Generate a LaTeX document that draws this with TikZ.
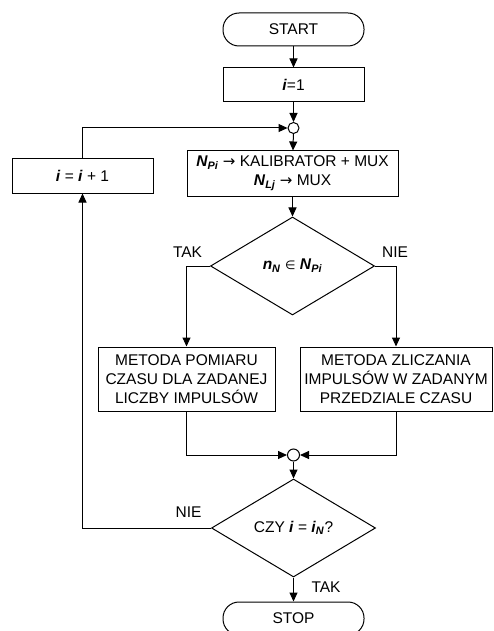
\documentclass[tikz,border=0pt]{standalone}
\usepackage{fontspec}
\setmainfont{Liberation Sans}
\newfontfamily\symf{DejaVu Sans}
\usetikzlibrary{arrows.meta,shapes.geometric}
\newcommand\bi[1]{\textbf{\textit{#1}}}
\newcommand\sbi[1]{\textsubscript{\bi{#1}}}
\newcommand\rarr{{\symf\fontsize{15}{19}\selectfont →}}
\begin{document}
\begin{tikzpicture}[x=1pt,y=-1pt,
  font=\fontsize{15.5}{19}\selectfont,
  line width=1pt,
  box/.style={draw,fill=white,rectangle,inner sep=0pt,align=center},
  term/.style={draw,fill=white,rectangle,rounded corners=16pt,inner sep=0pt,minimum width=141pt,minimum height=33pt},
  dec/.style={draw,fill=white,diamond,inner sep=0pt,minimum width=164pt,minimum height=98pt},
  junc/.style={draw,fill=white,circle,inner sep=0pt,minimum size=11pt},
  arr/.style={-{Triangle[length=9pt,width=8pt]}},
  lbl/.style={inner sep=0pt}]
\clip (0,0) rectangle (493,631);
\useasboundingbox (0,0) rectangle (493,631);
\node[term] (start) at (293.5,29.5) {START};
\node[box,minimum width=141pt,minimum height=34pt] (i1) at (293.5,85) {\bi{i}=1};
\node[junc] (j1) at (293.5,128) {};
\node[box,minimum width=141pt,minimum height=34pt] (inc) at (82.5,176) {\bi{i} = \bi{i} + 1};
\node[box,minimum width=211pt,minimum height=45pt] (np) at (292.5,173.5)
  {\bi{N}\sbi{Pi} \rarr{} KALIBRATOR + MUX\\ \bi{N}\sbi{Lj} \rarr{} MUX};
\node[dec] (d1) at (292.5,266) {\bi{n}\sbi{N} {\symf\fontsize{12}{19}\selectfont ∈} \bi{N}\sbi{Pi}};
\node[lbl] (tak1) at (187.5,252) {TAK};
\node[lbl] (nie1) at (395,252) {NIE};
\node[box,minimum width=177pt,minimum height=64pt] (L) at (186.5,379)
  {METODA POMIARU\\CZASU DLA ZADANEJ\\LICZBY IMPULSÓW};
\node[box,minimum width=192pt,minimum height=64pt] (R) at (396,379)
  {METODA ZLICZANIA\\IMPULSÓW W ZADANYM\\PRZEDZIALE CZASU};
\node[junc,minimum size=12pt] (j2) at (293.5,455) {};
\node[dec] (d2) at (293.5,528) {CZY \bi{i} = \bi{i}\sbi{N}?};
\node[lbl] (nie2) at (188.5,512) {NIE};
\node[lbl] (tak2) at (326,587) {TAK};
\node[term] (stop) at (293.5,618.5) {STOP};
\draw[arr] (start) -- (i1);
\draw[arr] (i1) -- (j1);
\draw[arr] (inc.north) |- (j1.west);
\draw[arr] (j1) -- (np);
\draw[arr] (np) -- (d1);
\draw[arr] (d1.west) -| (L.north);
\draw[arr] (d1.east) -| (R.north);
\draw[arr] (L.south) |- (j2.west);
\draw[arr] (R.south) |- (j2.east);
\draw[arr] (j2) -- (d2);
\draw[arr] (d2.west) -| (inc.south);
\draw[arr] (d2) -- (stop);
\end{tikzpicture}
\end{document}
